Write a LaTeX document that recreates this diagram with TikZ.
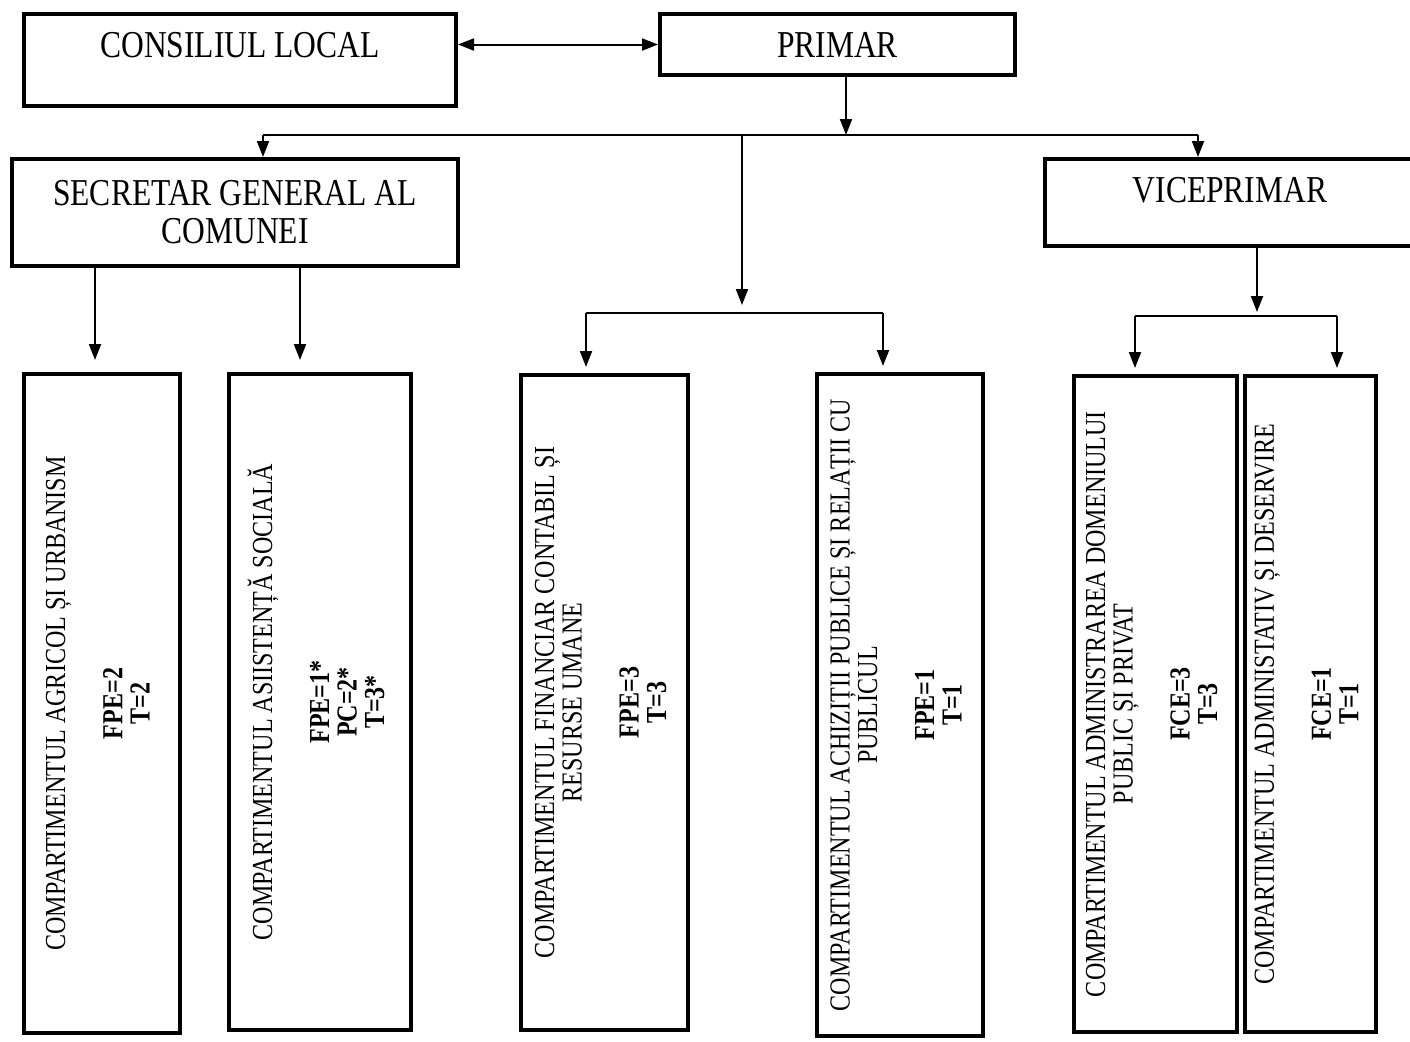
\documentclass[tikz,border=0pt]{standalone}
\usepackage{fontspec}
\setmainfont{Liberation Serif}[FakeStretch=0.83]
\usepackage{graphicx}
\usetikzlibrary{arrows.meta}
\newcommand{\compart}[2]{\rotatebox{90}{\begin{tabular}{@{}c@{}}#1\\[14.75pt]#2\end{tabular}}}

\begin{document}
\begin{tikzpicture}[x=0.5pt,y=-0.5pt,line width=1pt,
    >={Triangle[width=6pt,length=8pt]},
    box/.style={draw,line width=2pt,inner sep=0pt,align=center,
      font=\fontsize{19}{19}\selectfont},
    comp/.style={draw,line width=2pt,inner sep=0pt,
      font=\fontsize{14.5}{13.75}\selectfont}]
    \useasboundingbox (0,0) rectangle (1410,1041);

    \node[box,minimum width=216pt,minimum height=46pt,text height=21.5pt,text depth=24.5pt] (cl) at (240,60) {CONSILIUL LOCAL};
    \node[box,minimum width=177.5pt,minimum height=30.5pt] (pr) at (837.5,44.5) {PRIMAR};
    \node[box,minimum width=223pt,minimum height=53.5pt] (sg) at (235,212.5) {SECRETAR GENERAL AL\\COMUNEI};
    \node[box,minimum width=185pt,minimum height=43.5pt,text height=21.75pt,text depth=21.75pt] (vp) at (1230,202.5) {VICEPRIMAR};

    \node[comp,minimum width=78pt,minimum height=329.5pt] (agr) at (102,703.5)
      {\compart{COMPARTIMENTUL AGRICOL ȘI URBANISM}{\textbf{FPE=2}\\\textbf{T=2}}};
    \node[comp,minimum width=91pt,minimum height=328pt] (asi) at (320,702)
      {\compart{COMPARTIMENTUL ASIISTENȚĂ SOCIALĂ}{\textbf{FPE=1*}\\\textbf{PC=2*}\\\textbf{T=3*}}};
    \node[comp,minimum width=83.5pt,minimum height=327.5pt] (fin) at (604.5,702.5)
      {\compart{COMPARTIMENTUL FINANCIAR CONTABIL ȘI\\RESURSE UMANE}{\textbf{FPE=3}\\\textbf{T=3}}};
    \node[comp,minimum width=83pt,minimum height=331pt] (ach) at (900,705)
      {\compart{COMPARTIMENTUL ACHIZIȚII PUBLICE ȘI RELAȚII CU\\PUBLICUL}{\textbf{FPE=1}\\\textbf{T=1}}};
    \node[comp,minimum width=81.5pt,minimum height=328pt] (dom) at (1155.5,704)
      {\compart{COMPARTIMENTUL ADMINISTRAREA DOMENIULUI\\PUBLIC ȘI PRIVAT}{\textbf{FCE=3}\\\textbf{T=3}}};
    \node[comp,minimum width=65.5pt,minimum height=328pt] (des) at (1310.5,704)
      {\compart{COMPARTIMENTUL ADMINISTATIV ȘI DESERVIRE}{\textbf{FCE=1}\\\textbf{T=1}}};

    % junctions of the lines
    \coordinate (pj) at (846,135);
    \coordinate (s1) at (263,135);
    \coordinate (v1) at (1198,135);
    \coordinate (mj) at (742,135);
    \coordinate (mb) at (742,313);
    \coordinate (f1) at (586,313);
    \coordinate (a1) at (883,313);
    \coordinate (vj) at (1257,316);
    \coordinate (d1) at (1135,316);
    \coordinate (e1) at (1337,316);
    \coordinate (g1) at (95,300);
    \coordinate (g2) at (300,300);

    \draw[<->] (pr.west -| cl.east) -- (pr.west);
    \draw[->] (pj |- pr.south) -- (pj);
    \draw (s1) -- (v1);
    \draw[->] (s1) -- (s1 |- sg.north);
    \draw[->] (v1) -- (v1 |- vp.north);

    \draw[->,shorten >=4pt] (mj) -- (mb);
    \draw (f1) -- (a1);
    \draw[->,shorten >=3pt] (f1) -- (f1 |- fin.north);
    \draw[->,shorten >=3pt] (a1) -- (a1 |- ach.north);

    \draw[->,shorten >=2pt] (vj |- vp.south) -- (vj);
    \draw (d1) -- (e1);
    \draw[->,shorten >=3pt] (d1) -- (d1 |- dom.north);
    \draw[->,shorten >=3pt] (e1) -- (e1 |- des.north);

    \draw[->,shorten >=6pt] (g1 |- sg.south) -- (g1 |- agr.north);
    \draw[->,shorten >=6pt] (g2 |- sg.south) -- (g2 |- asi.north);
  \end{tikzpicture}
\end{document}
